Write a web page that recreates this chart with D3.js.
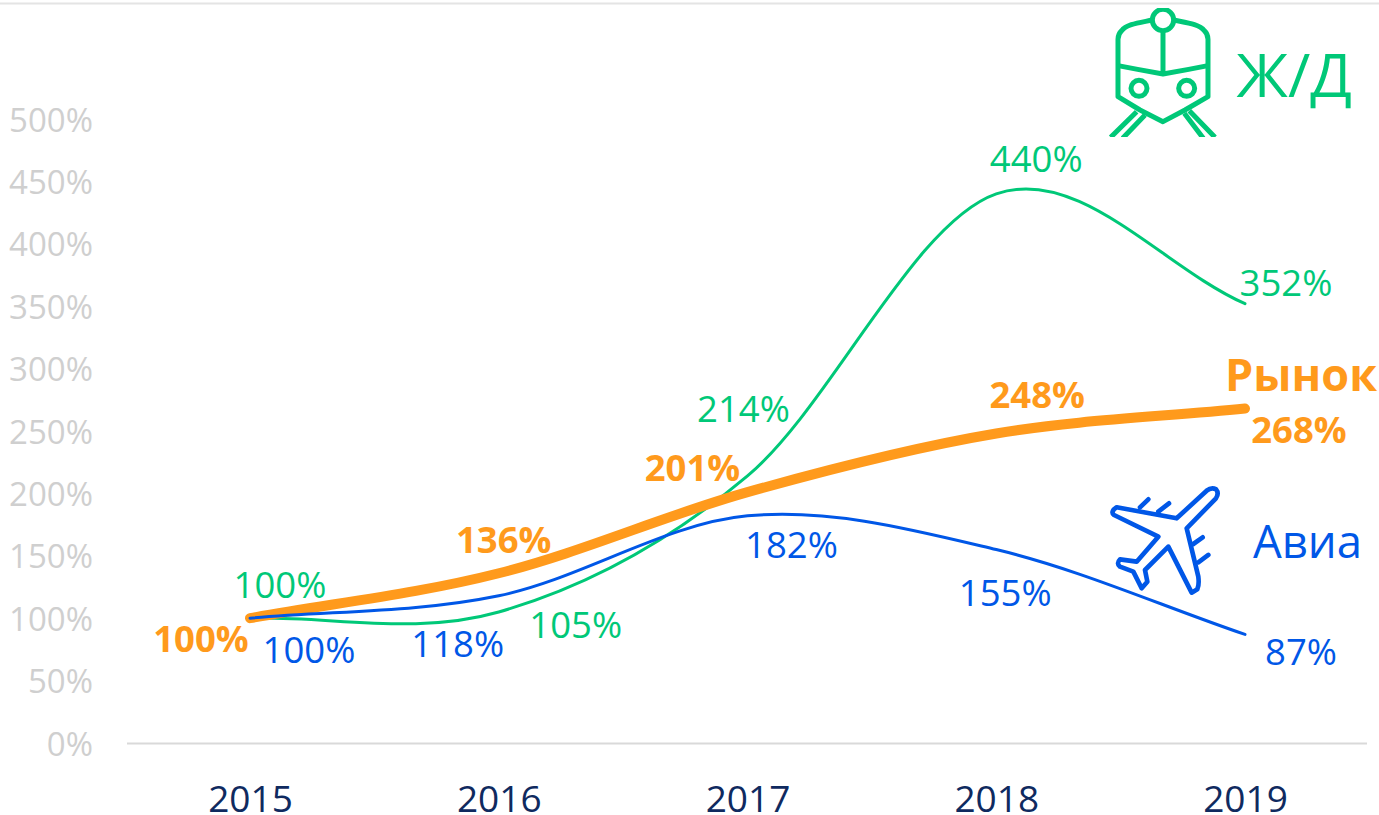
<!DOCTYPE html>
<html><head><meta charset="utf-8">
<script src="https://cdnjs.cloudflare.com/ajax/libs/d3/7.8.5/d3.min.js"></script>
<style>html,body{margin:0;padding:0;background:#fff}svg{display:block}text{font-family:"Open Sans",sans-serif}</style>
</head><body><svg id="c" width="1379" height="815"></svg>
<script>
const years = ["2015","2016","2017","2018","2019"];
const yTicks = [0,50,100,150,200,250,300,350,400,450,500];
const rail = [100,105,214,440,352];
const market = [100,136,201,248,268];
const avia = [100,118,182,155,87];

const svg = d3.select("#c");
const x = d3.scalePoint().domain(years).range([250,1245]);
const y = d3.scaleLinear().domain([0,500]).range([743,119]);

// Office-style smooth line: inner tangents (next-prev)/6, end tangents chord/3
function officeSmooth(context){
  const pts=[];
  return {
    areaStart(){},areaEnd(){},
    lineStart(){pts.length=0;},
    point(a,b){pts.push([+a,+b]);},
    lineEnd(){
      const n=pts.length;
      context.moveTo(pts[0][0],pts[0][1]);
      for(let i=0;i<n-1;i++){
        const p0=pts[i],p1=pts[i+1],pm=pts[i-1],pp=pts[i+2];
        const c1=pm?[p0[0]+(p1[0]-pm[0])/6,p0[1]+(p1[1]-pm[1])/6]:[p0[0]+(p1[0]-p0[0])/3,p0[1]+(p1[1]-p0[1])/3];
        const c2=pp?[p1[0]-(pp[0]-p0[0])/6,p1[1]-(pp[1]-p0[1])/6]:[p1[0]-(p1[0]-p0[0])/3,p1[1]-(p1[1]-p0[1])/3];
        context.bezierCurveTo(c1[0],c1[1],c2[0],c2[1],p1[0],p1[1]);
      }
    }
  };
}
const line = vals => d3.line().x((d,i)=>x(years[i])).y(d=>y(d)).curve(officeSmooth)(vals);

svg.append("line").attr("x1",0).attr("x2",1379).attr("y1",3.5).attr("y2",3.5).attr("stroke","#e4e4e4").attr("stroke-width",2);

const gy = svg.append("g").attr("transform","translate(93,1.5)")
  .call(d3.axisLeft(y).tickValues(yTicks).tickFormat(d=>d+"%").tickSize(0).tickPadding(0));
gy.select(".domain").remove();
gy.selectAll("text").attr("font-size",33).attr("fill","#cfcfcf").style("font-family",'"Open Sans",sans-serif');

const gx = svg.append("g").attr("transform","translate(0,743)")
  .call(d3.axisBottom(x).tickSize(0).tickPadding(0));
gx.select(".domain").remove();
gx.selectAll("text").attr("font-size",37).attr("fill","#0f2a5f").attr("y",43).attr("dy",".71em").style("font-family",'"Open Sans",sans-serif');
svg.append("line").attr("x1",127).attr("x2",1367).attr("y1",743.5).attr("y2",743.5).attr("stroke","#d9d9d9").attr("stroke-width",2);

const GREEN="#00c878", ORANGE="#ff9a1c", BLUE="#0057e7";
const series = [
  {v:rail,c:GREEN,w:3,bold:false,off:[[30,-33],[77,13],[-4,-67],[40,-35],[41,-21]]},
  {v:market,c:ORANGE,w:10,bold:true,off:[[-49,21],[5,-33],[-55,-24],[41,-39],[54,21]]},
  {v:avia,c:BLUE,w:3,bold:false,off:[[59,32],[-41,48],[44,29],[9,43],[56,17]]}
];
series.forEach(s=>{
  svg.append("path").attr("d",line(s.v)).attr("fill","none").attr("stroke",s.c).attr("stroke-width",s.w).attr("stroke-linecap","round");
});
series.forEach(s=>{
  svg.append("g").selectAll("text").data(s.v).join("text")
    .attr("x",(d,i)=>x(years[i])+s.off[i][0]).attr("y",(d,i)=>y(d)+s.off[i][1])
    .attr("dy",".36em").attr("text-anchor","middle").attr("font-size",36.5)
    .attr("font-weight",s.bold?700:400).attr("fill",s.c).text(d=>d+"%");
});

svg.append("text").attr("x",1352).attr("y",75).attr("dy",".36em").attr("text-anchor","end").attr("font-size",61).attr("fill",GREEN).text("Ж/Д");
svg.append("text").attr("x",1377).attr("y",375).attr("dy",".36em").attr("text-anchor","end").attr("font-size",45).attr("font-weight",700).attr("fill",ORANGE).text("Рынок");
svg.append("text").attr("x",1362).attr("y",542).attr("dy",".36em").attr("text-anchor","end").attr("font-size",45.5).attr("fill",BLUE).text("Авиа");

// train icon
svg.append("defs").append("clipPath").attr("id","tc").append("rect").attr("x",1100).attr("y",8).attr("width",130).attr("height",129);
const t = svg.append("g").attr("clip-path","url(#tc)").append("g").attr("transform","translate(1090,0) scale(0.3333)")
  .attr("fill","none").attr("stroke",GREEN).attr("stroke-width",15).attr("stroke-linejoin","round");
t.append("circle").attr("cx",219).attr("cy",60).attr("r",32);
t.append("path").attr("d","M187,60 C150,68 110,72 95,92 Q84,102 84,118 L84,290 L150,330 L219,365 L285,330 L354,290 L354,118 Q354,102 343,92 C328,72 290,68 251,60");
t.append("path").attr("d","M219,92 L219,218");
t.append("path").attr("d","M84,197 Q150,210 219,222 Q290,210 354,197");
t.append("circle").attr("cx",147).attr("cy",265).attr("r",24);
t.append("circle").attr("cx",290).attr("cy",265).attr("r",24);
t.append("path").attr("d","M140,335 L62,412 M165,345 L98,415 M283,340 L340,415 M298,332 L375,412");

// plane icon
const p = svg.append("g").attr("transform","translate(1090,470) scale(0.3333)")
  .attr("fill","none").attr("stroke",BLUE).attr("stroke-width",14).attr("stroke-linejoin","round").attr("stroke-linecap","round");
p.append("path").attr("d","M350,62 Q365,50 378,58 Q388,70 378,85 L290,175 L325,320 Q328,345 322,358 L305,368 L235,230 L165,300 L172,335 L155,355 L130,305 L90,290 Q78,280 90,268 L140,275 L205,200 L72,135 Q60,125 80,112 L260,145 Z");
p.append("path").attr("d","M150,112 L175,88 M205,125 L237,100 M310,222 L338,202 M325,277 L355,255");
</script></body></html>
